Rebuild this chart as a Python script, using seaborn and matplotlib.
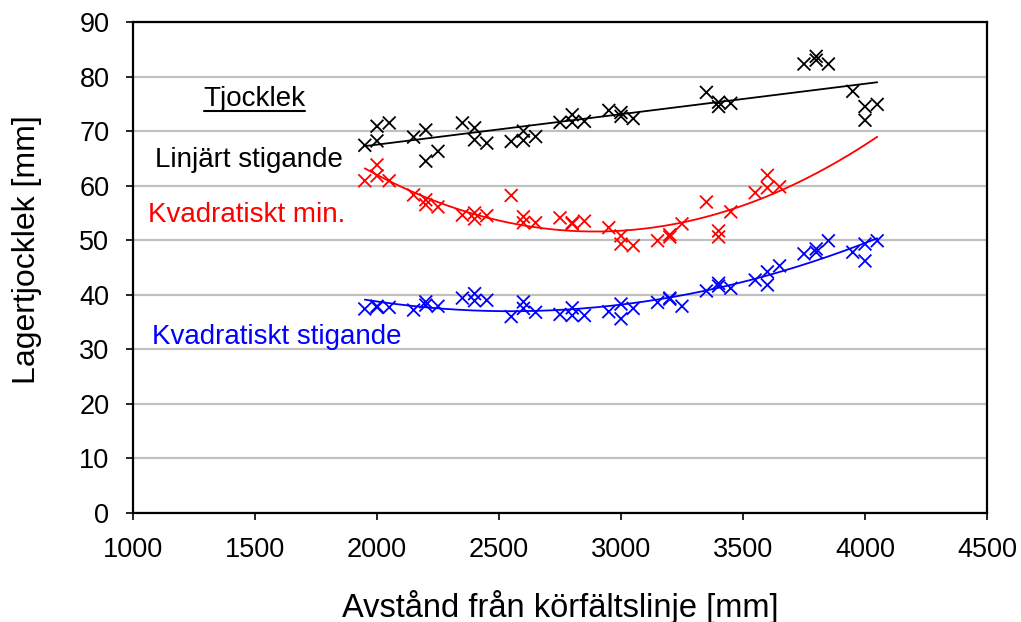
import numpy as np
import pandas as pd
import matplotlib
matplotlib.use("Agg")
import matplotlib.pyplot as plt
import seaborn as sns

# ---- data ----
black_x = [1950, 2000, 2000, 2050, 2150, 2200, 2200, 2250, 2350, 2400, 2400, 2450,
           2550, 2600, 2600, 2650, 2750, 2800, 2800, 2850, 2950, 3000, 3000, 3050,
           3350, 3400, 3400, 3450, 3750, 3800, 3800, 3850, 3950, 4000, 4000, 4050]
black_y = [67.4, 70.9, 68.2, 71.5, 68.9, 70.2, 64.5, 66.3, 71.5, 70.6, 68.4, 67.8,
           68.1, 70.0, 68.3, 69.0, 71.6, 73.0, 71.6, 71.8, 73.8, 73.4, 72.7, 72.3,
           77.1, 75.3, 74.5, 75.1, 82.3, 83.7, 83.0, 82.3, 77.3, 74.5, 72.0, 74.9]

red_x = [1950, 2000, 2000, 2050, 2150, 2200, 2200, 2250, 2350, 2400, 2400, 2450,
         2550, 2600, 2600, 2650, 2750, 2800, 2800, 2850, 2950, 3000, 3000, 3050,
         3150, 3200, 3200, 3250, 3350, 3400, 3400, 3450, 3550, 3600, 3600, 3650]
red_y = [60.9, 63.8, 61.8, 60.9, 58.3, 57.4, 56.5, 56.1, 54.6, 55.0, 53.9, 54.5,
         58.2, 54.3, 53.2, 53.2, 54.1, 53.2, 53.0, 53.5, 52.3, 50.8, 49.3, 49.0,
         49.9, 51.0, 50.6, 53.0, 57.0, 51.7, 50.6, 55.2, 58.7, 61.9, 59.6, 59.8]

blue_x = [1950, 2000, 2000, 2050, 2150, 2200, 2200, 2250, 2350, 2400, 2400, 2450,
          2550, 2600, 2600, 2650, 2750, 2800, 2800, 2850, 2950, 3000, 3000, 3050,
          3150, 3200, 3200, 3250, 3350, 3400, 3400, 3450, 3550, 3600, 3600, 3650,
          3750, 3800, 3800, 3850, 3950, 4000, 4000, 4050]
blue_y = [37.4, 37.9, 37.7, 37.7, 37.2, 38.7, 38.1, 37.9, 39.4, 40.2, 38.9, 39.0,
          36.0, 38.7, 37.5, 36.8, 36.4, 37.6, 36.2, 36.2, 36.9, 38.3, 35.6, 37.5,
          38.6, 39.4, 39.2, 37.9, 40.7, 42.1, 41.6, 41.2, 42.7, 44.2, 41.8, 45.3,
          47.5, 48.4, 47.8, 49.9, 47.8, 49.3, 46.2, 49.9]

trend_x_range = [1950, 4050]

x_ticks = [1000, 1500, 2000, 2500, 3000, 3500, 4000, 4500]
y_ticks = [0, 10, 20, 30, 40, 50, 60, 70, 80, 90]

title_text = "Tjocklek"
label_black = "Linjärt stigande"
label_red = "Kvadratiskt min."
label_blue = "Kvadratiskt stigande"
xlabel = "Avstånd från körfältslinje [mm]"
ylabel = "Lagertjocklek [mm]"

# ---- build frames ----
pts = pd.concat([
    pd.DataFrame({"x": black_x, "y": black_y, "s": "black"}),
    pd.DataFrame({"x": red_x, "y": red_y, "s": "red"}),
    pd.DataFrame({"x": blue_x, "y": blue_y, "s": "blue"}),
])

xs = np.linspace(trend_x_range[0], trend_x_range[1], 200)
trends = []
for name, xx, yy, deg in [("black", black_x, black_y, 1), ("red", red_x, red_y, 2),
                          ("blue", blue_x, blue_y, 2)]:
    c = np.polyfit(xx, yy, deg)
    trends.append(pd.DataFrame({"x": xs, "y": np.polyval(c, xs), "s": name}))
trends = pd.concat(trends)

palette = {"black": "#000000", "red": "#ff0000", "blue": "#0000ff"}

sns.set_theme(style="white")
plt.rcParams["font.family"] = ["Liberation Sans", "DejaVu Sans"]

fig = plt.figure(figsize=(10.21, 6.22), dpi=100)
ax = fig.add_axes([133 / 1021, 1 - 513 / 622, (987 - 133) / 1021, (513 - 22) / 622])

ax.set_axisbelow(True)
ax.grid(axis="y", color="#c0c0c0", linewidth=1.6)
ax.grid(axis="x", visible=False)

sns.lineplot(data=trends, x="x", y="y", hue="s", palette=palette, ax=ax,
             linewidth=1.3, legend=False, sort=True, estimator=None)
sns.scatterplot(data=pts, x="x", y="y", hue="s", palette=palette, ax=ax,
                marker="x", s=85, linewidth=1.3, legend=False, zorder=3)

ax.set_xlim(1000, 4500)
ax.set_ylim(0, 90)
ax.set_xticks(x_ticks)
ax.set_yticks(y_ticks)
ax.tick_params(axis="both", which="major", labelsize=19.5, colors="black",
               direction="out", length=5, width=1.2, bottom=True, left=True)
ax.tick_params(axis="y", pad=12)
ax.tick_params(axis="x", pad=12)
for sp in ax.spines.values():
    sp.set_color("black")
    sp.set_linewidth(1.6)
    sp.set_visible(True)

ax.set_xlabel(xlabel, fontsize=23.5, color="black")
ax.set_ylabel(ylabel, fontsize=23, color="black")
ax.xaxis.set_label_coords(0.5, (513 - 607) / 491)
ax.xaxis.label.set_va("center")
ax.yaxis.set_label_coords((27 - 133) / 854, (513 - 250) / 491)
ax.yaxis.label.set_va("center")

ax.text(1496, 74.6, title_text, fontsize=20, color="black", ha="center", va="baseline")
ax.plot([1290, 1705], [73.6, 73.6], color="black", linewidth=1.5)  # underline
ax.text(1090, 63.5, label_black, fontsize=20, color="black", ha="left", va="baseline")
ax.text(1062, 53.3, label_red, fontsize=20, color="#ff0000", ha="left", va="baseline")
ax.text(1078, 30.9, label_blue, fontsize=20, color="#0000ff", ha="left", va="baseline")

fig.savefig("out.png", dpi=100)
